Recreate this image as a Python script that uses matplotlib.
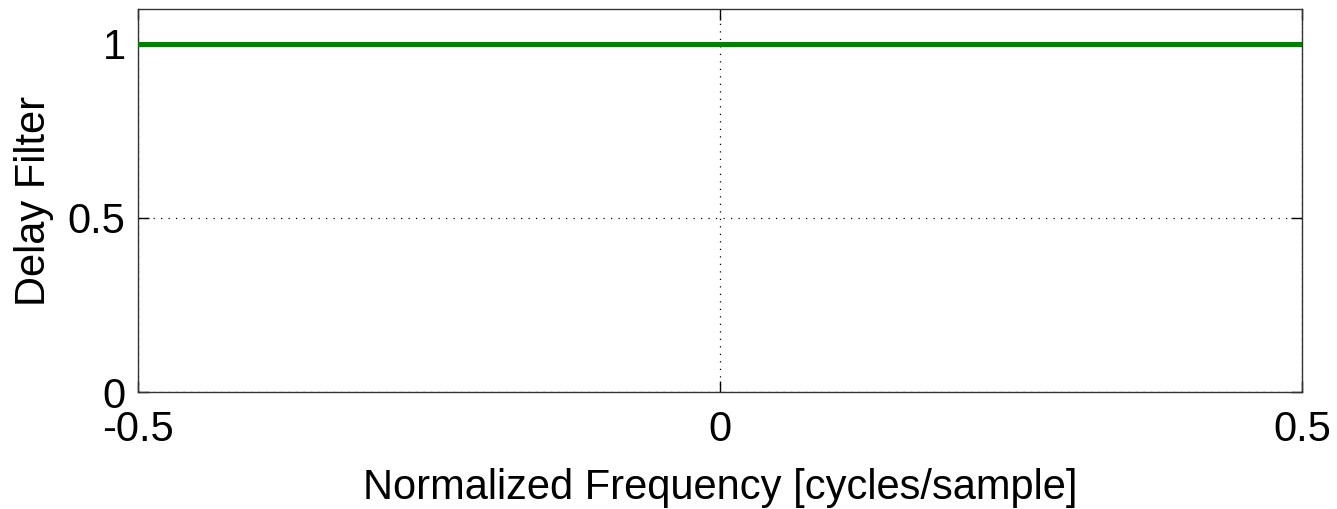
import matplotlib
matplotlib.use("Agg")
import matplotlib.pyplot as plt

freq = [-0.5, 0.5]
response = [1.0, 1.0]
x_ticks = [-0.5, 0, 0.5]
x_tick_labels = ["-0.5", "0", "0.5"]
y_ticks = [0, 0.5, 1]
y_tick_labels = ["0", "0.5", "1"]

plt.rcParams['font.family'] = ['Liberation Sans', 'DejaVu Sans']

fig = plt.figure(figsize=(13.37, 5.09), dpi=100)
ax = fig.add_axes([138/1337, 1 - 392/509, (1302-138)/1337, (392-9)/509])
ax.plot(freq, response, color='#008000', linewidth=3.6, zorder=3)
ax.set_xlim(-0.5, 0.5)
ax.set_ylim(0, 1.1)
ax.set_xticks(x_ticks)
ax.set_xticklabels(x_tick_labels)
ax.set_yticks(y_ticks)
ax.set_yticklabels(y_tick_labels)
ax.grid(True, linestyle=(0, (1, 5)), color='black', linewidth=0.9)
ax.tick_params(direction='in', length=8, width=1, labelsize=30, top=True, right=True)
ax.tick_params(axis='x', pad=13)
ax.tick_params(axis='y', pad=9)
for s in ax.spines.values():
    s.set_linewidth(1)
    s.set_color('#333333')
ax.set_xlabel("Normalized Frequency [cycles/sample]", fontsize=30, labelpad=13)
ax.set_ylabel("Delay Filter", fontsize=30, labelpad=10)
fig.savefig("out.png", dpi=100)
